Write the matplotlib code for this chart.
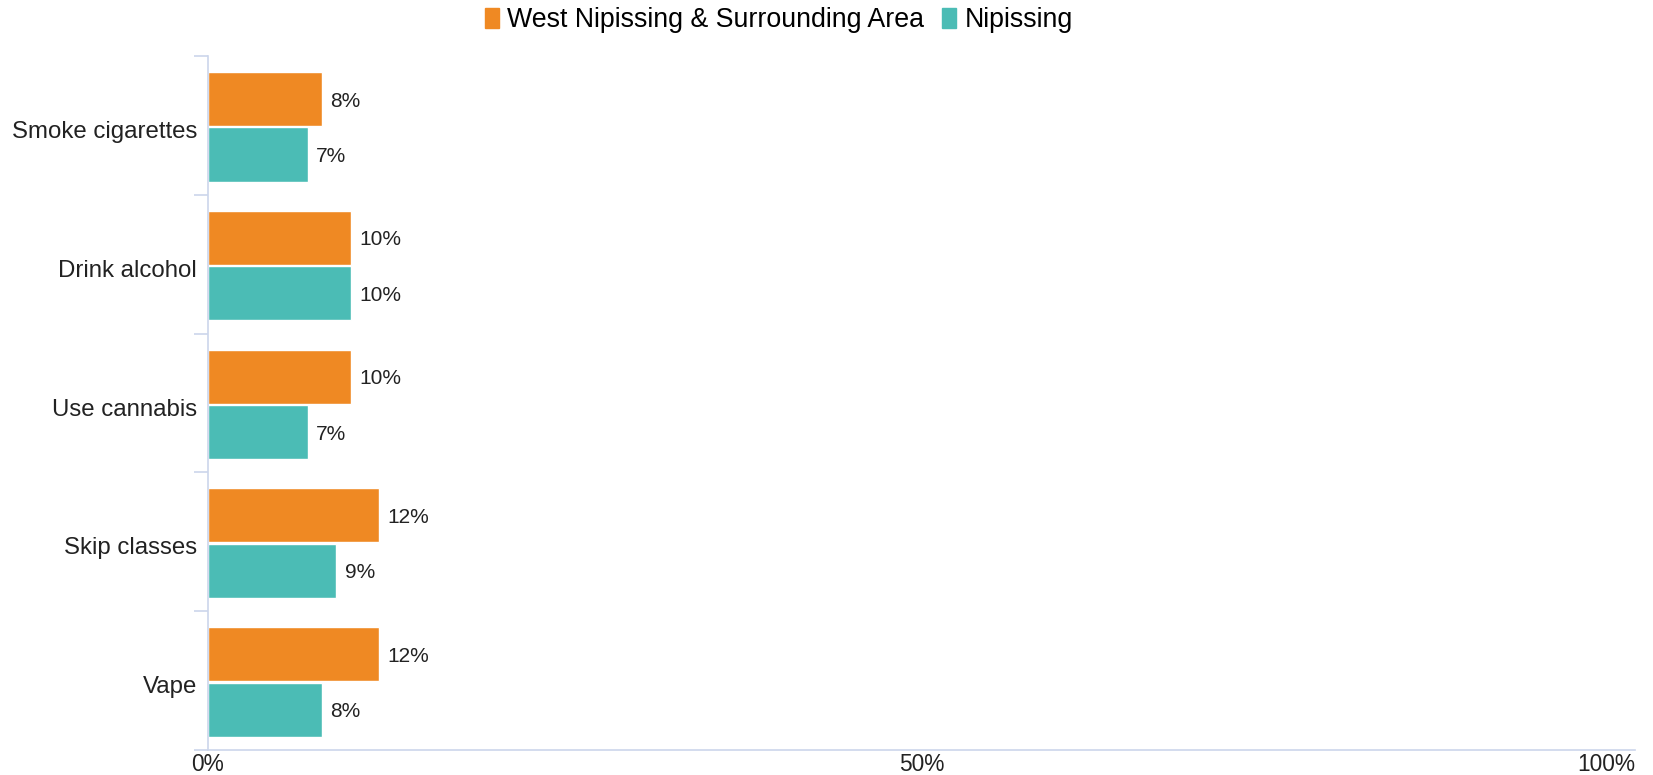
import matplotlib.pyplot as plt
import matplotlib.transforms as mtransforms
import numpy as np

plt.rcParams['font.family'] = ['Liberation Sans', 'DejaVu Sans']

# survey results, percent of students
categories = ["Smoke cigarettes", "Drink alcohol", "Use cannabis", "Skip classes", "Vape"]
west_nipissing = [8, 10, 10, 12, 12]
nipissing = [7, 10, 7, 9, 8]
series_names = ["West Nipissing & Surrounding Area", "Nipissing"]

orange = "#EF8923"
teal = "#4BBCB5"
axis_col = "#CCD6EB"

fig = plt.figure(figsize=(16.53, 7.75), dpi=100)
ax = fig.add_axes([208 / 1653, 25 / 775, (1635 - 208) / 1653, (750 - 56) / 775])

y = np.arange(len(categories))
h = 0.39
b1 = ax.barh(y - 0.19, west_nipissing, height=h, color=orange, edgecolor="white", linewidth=1)
b2 = ax.barh(y + 0.21, nipissing, height=h, color=teal, edgecolor="white", linewidth=1)

for bars, vals in ((b1, west_nipissing), (b2, nipissing)):
    for bar, v in zip(bars, vals):
        ax.annotate(f"{v}%", (v, bar.get_y() + bar.get_height() / 2),
                    xytext=(6, 0), textcoords="offset points",
                    ha="left", va="center_baseline", fontsize=15, color="#222222")

ax.set_xlim(0, 100)
ax.set_ylim(len(categories) - 0.5, -0.5)

for s in ("top", "right"):
    ax.spines[s].set_visible(False)
ax.spines["left"].set_color(axis_col)
ax.spines["bottom"].set_color(axis_col)
ax.spines["left"].set_linewidth(1.2)
ax.spines["bottom"].set_linewidth(1.2)

# category boundaries get the small tick marks, labels sit at the centres
ax.set_yticks(np.arange(-0.5, len(categories) - 0.4, 1.0))
ax.set_yticklabels([])
ax.tick_params(axis="y", which="major", length=10, color=axis_col, width=1.2)
ax.set_yticks(y, minor=True)
ax.set_yticklabels(categories, minor=True, fontsize=17.3, color="#222222")
ax.tick_params(axis="y", which="minor", length=0, pad=8)
shift = mtransforms.ScaledTranslation(0, -3 / 72, fig.dpi_scale_trans)
for lbl in ax.get_yticklabels(minor=True):
    lbl.set_transform(lbl.get_transform() + shift)

ax.set_xticks([0, 50, 100])
ax.set_xticklabels(["0%", "50%", "100%"], fontsize=16.4, color="#222222")
ax.tick_params(axis="x", length=0, pad=2)
ax.get_xticklabels()[-1].set_horizontalalignment("right")

handles = [plt.Rectangle((0, 0), 1, 1, color=orange), plt.Rectangle((0, 0), 1, 1, color=teal)]
fig.legend(handles, series_names, loc="center", bbox_to_anchor=(779 / 1653, 1 - 20 / 775),
           ncol=2, frameon=False, fontsize=19.3, handlelength=0.52, handleheight=0.78,
           handletextpad=0.3, columnspacing=0.67, borderpad=0)

fig.savefig("out.png", dpi=100)
